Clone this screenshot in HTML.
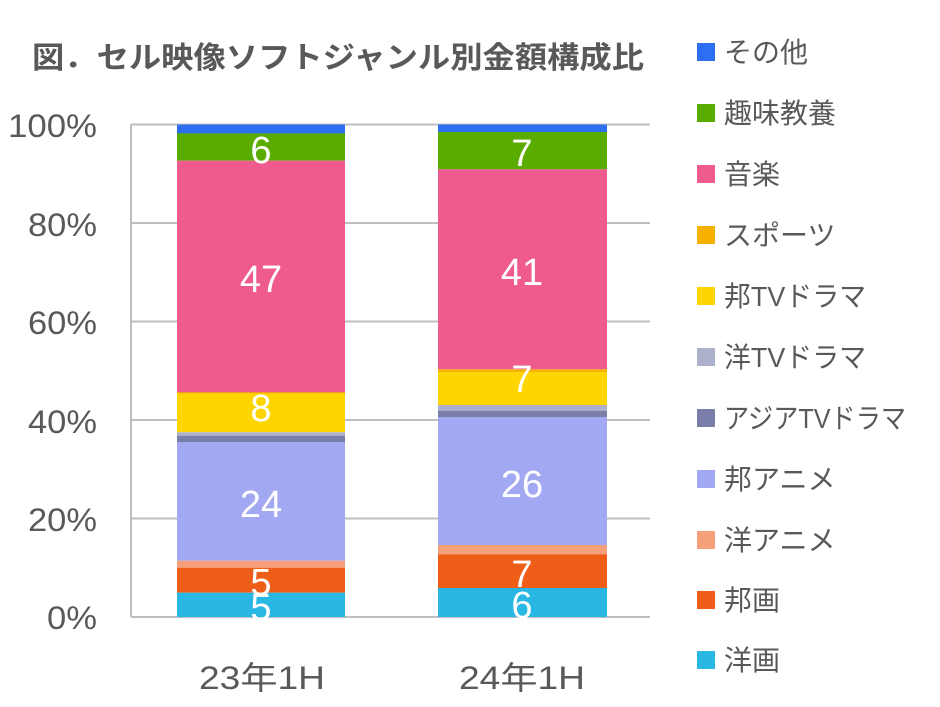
<!DOCTYPE html>
<html><head><meta charset="utf-8"><style>
html,body{margin:0;padding:0;background:#fff;}
svg{display:block;font-family:"Liberation Sans","Noto Sans CJK JP",sans-serif;}
</style></head><body>
<svg width="940" height="707" viewBox="0 0 940 707" xmlns="http://www.w3.org/2000/svg">
<text x="32" y="68" font-size="30" font-weight="bold" fill="#595959" textLength="612" lengthAdjust="spacingAndGlyphs">図．セル映像ソフトジャンル別金額構成比</text>
<g stroke="#BFBFBF" stroke-width="2">
<line x1="131" y1="124.5" x2="650" y2="124.5"/>
<line x1="131" y1="223" x2="650" y2="223"/>
<line x1="131" y1="321.5" x2="650" y2="321.5"/>
<line x1="131" y1="420" x2="650" y2="420"/>
<line x1="131" y1="518.5" x2="650" y2="518.5"/>
<line x1="131" y1="617" x2="650" y2="617"/>
<line x1="131" y1="124" x2="131" y2="617"/>
</g>
<g font-size="32" fill="#595959" text-anchor="end">
<text x="97" y="137" textLength="89" lengthAdjust="spacingAndGlyphs">100%</text>
<text x="97" y="236" textLength="69" lengthAdjust="spacingAndGlyphs">80%</text>
<text x="97" y="334" textLength="69" lengthAdjust="spacingAndGlyphs">60%</text>
<text x="97" y="433" textLength="69" lengthAdjust="spacingAndGlyphs">40%</text>
<text x="97" y="531" textLength="69" lengthAdjust="spacingAndGlyphs">20%</text>
<text x="97" y="629" textLength="50" lengthAdjust="spacingAndGlyphs">0%</text>
</g>
<g>
<rect x="177" y="124.5" width="168" height="9" fill="#2E6EF2"/>
<rect x="177" y="133.3" width="168" height="27.4" fill="#5AAC00"/>
<rect x="177" y="160.7" width="168" height="232.6" fill="#EF5A8F"/>
<rect x="177" y="392.3" width="168" height="1.5" fill="#F5B000"/>
<rect x="177" y="393.3" width="168" height="39" fill="#FFD500"/>
<rect x="177" y="432.3" width="168" height="3.4" fill="#AEB1CC"/>
<rect x="177" y="435.7" width="168" height="6.6" fill="#7A7FAA"/>
<rect x="177" y="442.3" width="168" height="118.4" fill="#A2A8F2"/>
<rect x="177" y="560.7" width="168" height="7" fill="#F5A07A"/>
<rect x="177" y="567.7" width="168" height="25" fill="#EE5E19"/>
<rect x="177" y="592.7" width="168" height="24.3" fill="#29B8E3"/>
</g>
<g>
<rect x="438" y="124.5" width="169" height="7.5" fill="#2E6EF2"/>
<rect x="438" y="132" width="169" height="37.3" fill="#5AAC00"/>
<rect x="438" y="169.3" width="169" height="200" fill="#EF5A8F"/>
<rect x="438" y="369.3" width="169" height="2.7" fill="#F5B000"/>
<rect x="438" y="372" width="169" height="33" fill="#FFD500"/>
<rect x="438" y="405" width="169" height="5.7" fill="#AEB1CC"/>
<rect x="438" y="410.7" width="169" height="6.6" fill="#7A7FAA"/>
<rect x="438" y="417.3" width="169" height="127.7" fill="#A2A8F2"/>
<rect x="438" y="545" width="169" height="9.3" fill="#F5A07A"/>
<rect x="438" y="554.3" width="169" height="33.7" fill="#EE5E19"/>
<rect x="438" y="588" width="169" height="29" fill="#29B8E3"/>
</g>
<g font-size="38" fill="#fff" text-anchor="middle">
<text x="261" y="163">6</text>
<text x="261" y="292">47</text>
<text x="261" y="421">8</text>
<text x="261" y="517">24</text>
<text x="261" y="595">5</text>
<text x="261" y="620">5</text>
<text x="522" y="166">7</text>
<text x="522" y="285">41</text>
<text x="522" y="392">7</text>
<text x="522" y="497">26</text>
<text x="522" y="587">7</text>
<text x="522" y="618">6</text>
</g>
<g font-size="32" fill="#595959" text-anchor="middle">
<text x="262" y="689" textLength="126" lengthAdjust="spacingAndGlyphs">23年1H</text>
<text x="522" y="689" textLength="126" lengthAdjust="spacingAndGlyphs">24年1H</text>
</g>
<g font-size="28" fill="#595959">
<rect x="697" y="43" width="18" height="18" fill="#2E6EF2"/><text x="724" y="62">その他</text>
<rect x="697" y="104" width="18" height="18" fill="#5AAC00"/><text x="724" y="123">趣味教養</text>
<rect x="697" y="165" width="18" height="18" fill="#EF5A8F"/><text x="724" y="184">音楽</text>
<rect x="697" y="226" width="18" height="18" fill="#F5B000"/><text x="724" y="245">スポーツ</text>
<rect x="697" y="287" width="18" height="18" fill="#FFD500"/><text x="724" y="306" textLength="142" lengthAdjust="spacingAndGlyphs">邦TVドラマ</text>
<rect x="697" y="348" width="18" height="18" fill="#AEB1CC"/><text x="724" y="367" textLength="142" lengthAdjust="spacingAndGlyphs">洋TVドラマ</text>
<rect x="697" y="409" width="18" height="18" fill="#7A7FAA"/><text x="724" y="428" textLength="182" lengthAdjust="spacingAndGlyphs">アジアTVドラマ</text>
<rect x="697" y="470" width="18" height="18" fill="#A2A8F2"/><text x="724" y="489">邦アニメ</text>
<rect x="697" y="531" width="18" height="18" fill="#F5A07A"/><text x="724" y="550">洋アニメ</text>
<rect x="697" y="591" width="18" height="18" fill="#EE5E19"/><text x="724" y="610">邦画</text>
<rect x="697" y="651" width="18" height="18" fill="#29B8E3"/><text x="724" y="670">洋画</text>
</g>
</svg>
</body></html>
